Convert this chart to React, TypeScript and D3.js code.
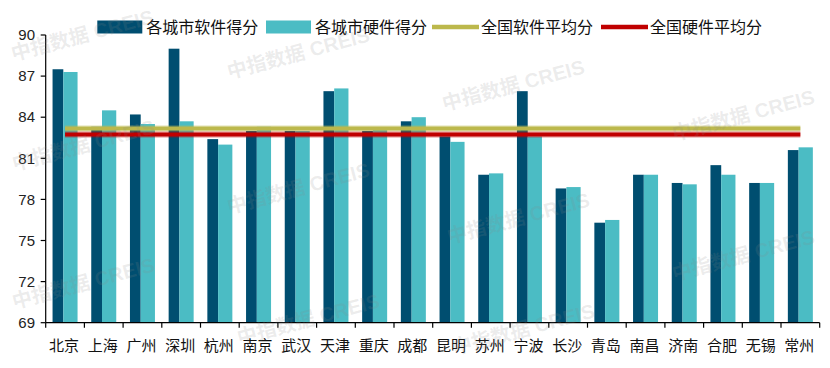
import React from "react";
import * as d3 from "d3";

const cities = ["北京", "上海", "广州", "深圳", "杭州", "南京", "武汉", "天津", "重庆", "成都", "昆明", "苏州", "宁波", "长沙", "青岛", "南昌", "济南", "合肥", "无锡", "常州"];
const softwareScores = [87.5, 83.3, 84.2, 89.0, 82.4, 83.0, 83.0, 85.9, 83.0, 83.7, 82.6, 79.8, 85.9, 78.8, 76.3, 79.8, 79.2, 80.5, 79.2, 81.6];
const hardwareScores = [87.3, 84.5, 83.5, 83.7, 82.0, 83.3, 83.0, 86.1, 83.1, 84.0, 82.2, 79.9, 82.6, 78.9, 76.5, 79.8, 79.1, 79.8, 79.2, 81.8];
const softwareAvg = 83.17;
const hardwareAvg = 82.73;
const yTicks = [69, 72, 75, 78, 81, 84, 87, 90];
const legendLabels = ["各城市软件得分", "各城市硬件得分", "全国软件平均分", "全国硬件平均分"];

const W = 830;
const H = 368;
const left = 45.7;
const right = 819.7;
const top = 35;
const bottom = 322.7;

const darkColor = "#004e70";
const lightColor = "#4bbcc4";
const yellowColor = "#bcb84c";
const redColor = "#c00000";
const font = "'Liberation Sans', 'Noto Sans CJK SC', sans-serif";

// faint watermark placement (decoration only)
const watermarks = [
  [84, 42], [85, 152], [85, 290],
  [300, 60], [300, 195], [310, 326],
  [515, 92], [520, 225], [525, 336],
  [745, 122], [745, 262],
];

export default function App() {
  const x = d3.scaleBand<string>().domain(cities).range([left, right]).padding(0);
  const y = d3.scaleLinear().domain([69, 90]).range([bottom, top]);
  const bw = x.bandwidth();

  const legendX = [97.3, 266, 432, 601];
  const legendColors = [darkColor, lightColor, yellowColor, redColor];

  const lineX1 = (x(cities[0]) ?? 0) + bw / 2;
  const lineX2 = (x(cities[cities.length - 1]) ?? 0) + bw / 2;

  return (
    <svg
      width={W}
      height={H}
      style={{ position: "absolute", left: 0, top: 0, background: "#fff" }}
      fontFamily={font}
    >
      {/* bars */}
      {cities.map((c, i) => {
        const x0 = x(c) ?? 0;
        const d0 = x0 + bw * 0.177;
        const split = x0 + bw * 0.455;
        const d1 = x0 + bw * 0.823;
        return (
          <g key={c}>
            <rect x={d0} y={y(softwareScores[i])} width={split - d0} height={bottom - y(softwareScores[i])} fill={darkColor} />
            <rect x={split} y={y(hardwareScores[i])} width={d1 - split} height={bottom - y(hardwareScores[i])} fill={lightColor} />
          </g>
        );
      })}

      {/* average lines */}
      <line x1={lineX1} x2={lineX2} y1={y(softwareAvg)} y2={y(softwareAvg)} stroke={yellowColor} strokeOpacity={0.3} strokeWidth={6.5} />
      <line x1={lineX1} x2={lineX2} y1={y(softwareAvg)} y2={y(softwareAvg)} stroke={yellowColor} strokeWidth={4} />
      <line x1={lineX1} x2={lineX2} y1={y(hardwareAvg)} y2={y(hardwareAvg)} stroke={redColor} strokeOpacity={0.3} strokeWidth={6.5} />
      <line x1={lineX1} x2={lineX2} y1={y(hardwareAvg)} y2={y(hardwareAvg)} stroke={redColor} strokeWidth={4} />

      {/* y axis */}
      <line x1={left} x2={left} y1={top} y2={bottom} stroke="#000" strokeWidth={1.2} />
      {yTicks.map((t) => (
        <g key={t}>
          <line x1={left - 5} x2={left} y1={y(t)} y2={y(t)} stroke="#000" strokeWidth={1.2} />
          <text x={35} y={y(t)} dy="0.35em" textAnchor="end" fontSize={15} fill="#222">
            {t}
          </text>
        </g>
      ))}

      {/* x axis */}
      <line x1={left} x2={right} y1={bottom} y2={bottom} stroke="#000" strokeWidth={1.2} />
      {[...cities.map((c) => x(c) ?? 0), right].map((tx, i) => (
        <line key={i} x1={tx} x2={tx} y1={bottom} y2={bottom + 5} stroke="#000" strokeWidth={1.2} />
      ))}
      {cities.map((c) => (
        <text key={c} x={(x(c) ?? 0) + bw / 2 - 1} y={351} textAnchor="middle" fontSize={15} fill="#111">
          {c}
        </text>
      ))}

      {/* legend */}
      {legendLabels.map((l, i) => (
        <g key={l}>
          {i < 2 ? (
            <rect x={legendX[i]} y={20.5} width={45} height={13} fill={legendColors[i]} />
          ) : (
            <line x1={legendX[i]} x2={legendX[i] + 47} y1={27} y2={27} stroke={legendColors[i]} strokeWidth={4.5} />
          )}
          <text x={legendX[i] + 49} y={27} dy="0.36em" fontSize={16} fill="#111">
            {l}
          </text>
        </g>
      ))}

      {/* watermarks */}
      {watermarks.map(([wx, wy], i) => (
        <text
          key={i}
          x={wx}
          y={wy}
          textAnchor="middle"
          fontSize={20}
          fontWeight="bold"
          fill="#888"
          fillOpacity={0.16}
          transform={`rotate(-15 ${wx} ${wy})`}
        >
          中指数据 CREIS
        </text>
      ))}
    </svg>
  );
}
